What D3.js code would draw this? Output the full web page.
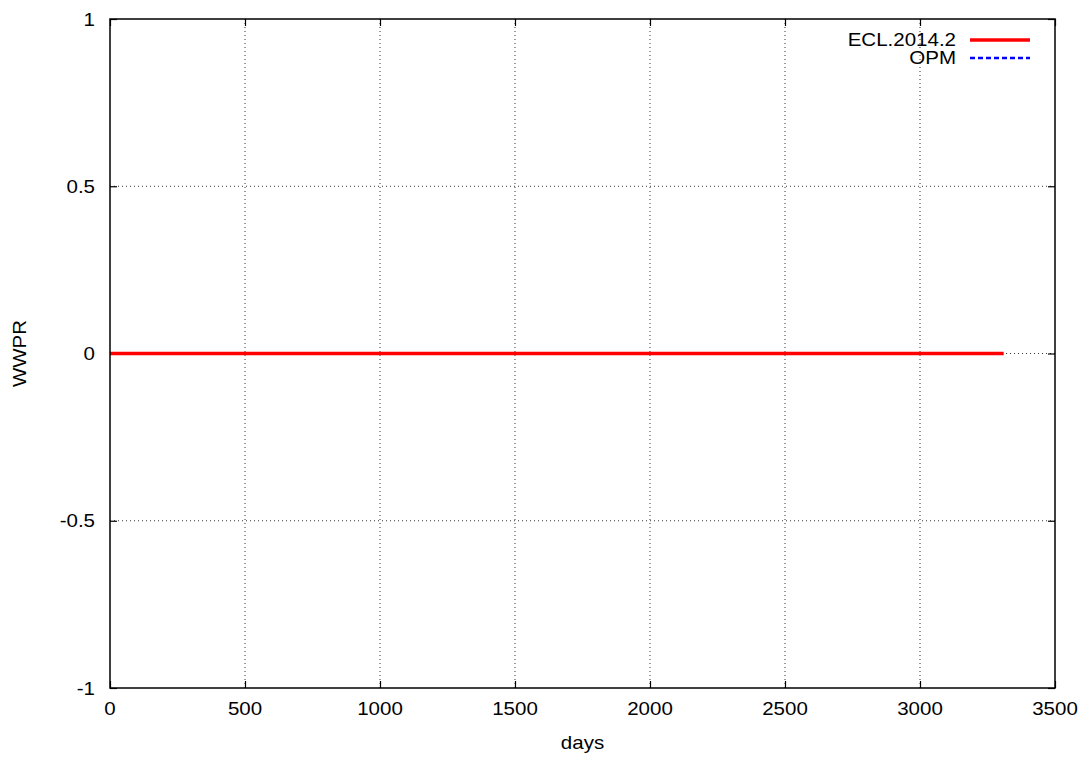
<!DOCTYPE html>
<html><head><meta charset="utf-8">
<script src="https://cdn.jsdelivr.net/npm/d3@7"></script>
<style>body{margin:0;background:#fff;}svg{display:block;font-family:"Liberation Sans",Arial,sans-serif;}</style>
</head><body>
<svg id="c" width="1086" height="757"></svg>
<script>
const days = [0, 500, 1000, 1500, 2000, 2500, 3000, 3310];
const eclValues = [0, 0, 0, 0, 0, 0, 0, 0];
const opmValues = [0, 0, 0, 0, 0, 0, 0, 0];
const xTicks = [0, 500, 1000, 1500, 2000, 2500, 3000, 3500];
const yTicks = [-1, -0.5, 0, 0.5, 1];
const seriesNames = ["ECL.2014.2", "OPM"];

const FS = 18, SX = 1.14;
const svg = d3.select("#c");
const L = 110, R = 1055, T = 19, B = 688;
const x = d3.scaleLinear().domain([0, 3500]).range([L, R]);
const y = d3.scaleLinear().domain([-1, 1]).range([B, T]);

function txt(px, py, s, anchor, rot) {
  return svg.append("text")
    .attr("transform", `translate(${px},${py})` + (rot ? ` rotate(${rot})` : "") + ` scale(${SX},1)`)
    .attr("text-anchor", anchor).attr("font-size", FS).attr("fill", "#000").text(s);
}

// grid
const g = svg.append("g");
g.selectAll(".gx").data(xTicks.slice(1, -1)).enter().append("line")
  .attr("x1", d => x(d)).attr("x2", d => x(d)).attr("y1", T).attr("y2", B)
  .attr("stroke", "#000").attr("stroke-width", 0.8).attr("stroke-dasharray", "1,3");
g.selectAll(".gy").data(yTicks.slice(1, -1)).enter().append("line")
  .attr("y1", d => y(d)).attr("y2", d => y(d)).attr("x1", L).attr("x2", R)
  .attr("stroke", "#000").attr("stroke-width", 0.8).attr("stroke-dasharray", "1,3");

// ticks via axes (inward, mirrored), labels drawn separately
const tk = s => { s.select(".domain").remove(); s.selectAll("text").remove(); s.selectAll("line").attr("stroke-width", 1.2); };
svg.append("g").attr("transform", `translate(0,${B})`)
  .call(d3.axisBottom(x).tickValues(xTicks).tickSizeInner(-7).tickSizeOuter(0)).call(tk);
svg.append("g").attr("transform", `translate(0,${T})`)
  .call(d3.axisTop(x).tickValues(xTicks).tickSizeInner(-7).tickSizeOuter(0)).call(tk);
svg.append("g").attr("transform", `translate(${L},0)`)
  .call(d3.axisLeft(y).tickValues(yTicks).tickSizeInner(-7).tickSizeOuter(0)).call(tk);
svg.append("g").attr("transform", `translate(${R},0)`)
  .call(d3.axisRight(y).tickValues(yTicks).tickSizeInner(-7).tickSizeOuter(0)).call(tk);

xTicks.forEach(d => txt(x(d), 715, String(d), "middle"));
yTicks.forEach(d => txt(95, y(d) + 6.5, String(d), "end"));

const line = vals => d3.line().x((d, i) => x(days[i])).y(d => y(d))(vals);
svg.append("path").attr("d", line(opmValues)).attr("fill", "none").attr("stroke", "#0000ff").attr("stroke-width", 2.5).attr("stroke-dasharray", "5,3");
svg.append("path").attr("d", line(eclValues)).attr("fill", "none").attr("stroke", "#ff0000").attr("stroke-width", 3.5);

svg.append("rect").attr("x", L).attr("y", T).attr("width", R - L).attr("height", B - T)
  .attr("fill", "none").attr("stroke", "#000").attr("stroke-width", 1.5);

txt(x(1750), 749, "days", "middle");
txt(25.5, y(0), "WWPR", "middle", -90);

const leg = [{name: seriesNames[0], color: "#ff0000", dash: null, w: 3.5}, {name: seriesNames[1], color: "#0000ff", dash: "5,3", w: 2.5}];
leg.forEach((d, i) => {
  const yy = 40 + i * 18;
  txt(956, yy + 5.5, d.name, "end");
  svg.append("line").attr("x1", 970).attr("x2", 1030).attr("y1", yy).attr("y2", yy)
    .attr("stroke", d.color).attr("stroke-width", d.w).attr("stroke-dasharray", d.dash);
});
</script>
</body></html>
